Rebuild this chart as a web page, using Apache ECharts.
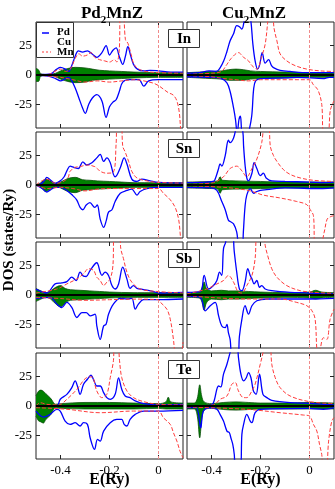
<!DOCTYPE html>
<html>
<head>
<meta charset="utf-8">
<script src="https://cdn.jsdelivr.net/npm/echarts@6/dist/echarts.min.js"></script>
<style>
html, body { margin: 0; padding: 0; background: #fff; }
#chart { width: 335px; height: 489px; }
</style>
</head>
<body>
<div id="chart"></div>
<script>
'use strict';
var FONT = '"Liberation Serif", "Times New Roman", serif';

// tick labels
var xTicks = [-0.4, -0.2, 0];
var yTicks = [-25, 0, 25];
var rowLabels = ['In', 'Sn', 'Sb', 'Te'];
var legendNames = ['Pd', 'Cu', 'Mn'];

// ---- Pd2MnIn ----  [E (Ry), DOS]
var pdInUp = [[-0.5,0],[-0.47,0.5],[-0.44,1],[-0.415,5],[-0.4,6.5],[-0.38,5],[-0.367,3],[-0.354,8],[-0.34,16],[-0.327,20.5],[-0.31,19.5],[-0.29,20.5],[-0.272,18],[-0.252,15],[-0.231,19],[-0.214,25],[-0.2,17],[-0.186,21],[-0.173,23],[-0.159,15],[-0.146,9],[-0.135,16],[-0.125,24],[-0.113,16],[-0.102,9],[-0.086,5],[-0.06,3.5],[-0.034,4],[0,3.5],[0.05,2.5],[0.1,2.5]];
var pdInDn = [[-0.5,0],[-0.45,-1],[-0.42,-3],[-0.4,-5],[-0.38,-3],[-0.367,-2],[-0.354,-5],[-0.34,-11],[-0.325,-19.5],[-0.31,-28],[-0.299,-32.5],[-0.285,-25],[-0.27,-19.5],[-0.252,-16.7],[-0.231,-22],[-0.214,-36],[-0.2,-27],[-0.186,-23],[-0.173,-21],[-0.16,-14],[-0.146,-6],[-0.12,-4],[-0.08,-4],[-0.06,-9.5],[-0.04,-5],[0,-4],[0.05,-4],[0.1,-4]];
var pdInMnUp = [[-0.5,0],[-0.45,0.5],[-0.4,5],[-0.38,3],[-0.36,5],[-0.34,14],[-0.325,18],[-0.31,16],[-0.29,17],[-0.275,19],[-0.26,15],[-0.24,13],[-0.22,12],[-0.2,11],[-0.18,13],[-0.17,11],[-0.16,22],[-0.155,55],[-0.145,55],[-0.135,30],[-0.125,27],[-0.11,16],[-0.1,9],[-0.08,5],[-0.05,3],[0,2],[0.1,1.5]];
var pdInMnDn = [[-0.5,0],[-0.4,-2],[-0.35,-4],[-0.3,-6],[-0.25,-5],[-0.2,-6],[-0.15,-5],[-0.1,-4],[-0.06,-5],[-0.02,-7],[0,-9],[0.02,-12],[0.04,-15],[0.06,-17],[0.075,-22],[0.085,-32],[0.092,-50],[0.1,-60]];
var pdInZ = [[-0.5,5.5,-5.5],[-0.49,4.5,-5.5],[-0.48,1,-1],[-0.45,0.3,-0.3],[-0.42,1.5,-1.5],[-0.4,3.5,-3.5],[-0.37,5.5,-5.5],[-0.34,6.5,-6.5],[-0.3,6,-6],[-0.27,5,-4.5],[-0.24,4,-4],[-0.2,3.5,-3.5],[-0.15,3,-3],[-0.1,2.5,-2.5],[0,2,-2],[0.1,2,-2]];

// ---- Cu2MnIn ----
var cuInUp = [[-0.5,1.5],[-0.45,2],[-0.41,3.5],[-0.38,3],[-0.365,6],[-0.35,12],[-0.337,20],[-0.324,29],[-0.31,35],[-0.297,42],[-0.286,41],[-0.276,39],[-0.265,47],[-0.25,55],[-0.24,47],[-0.231,26],[-0.222,12],[-0.212,5],[-0.203,9],[-0.193,19],[-0.181,10],[-0.167,13],[-0.155,8],[-0.145,6],[-0.12,4],[-0.08,3],[0,2],[0.05,2],[0.1,2]];
var cuInDn = [[-0.5,-1.5],[-0.4,-2],[-0.36,-3],[-0.337,-6.6],[-0.324,-14],[-0.31,-28],[-0.302,-38],[-0.295,-50],[-0.288,-38],[-0.282,-35],[-0.275,-50],[-0.26,-55],[-0.25,-50],[-0.236,-35],[-0.228,-12],[-0.22,-5],[-0.2,-3],[-0.1,-2.5],[-0.05,-2],[0.06,-3],[0.08,-2],[0.1,-2]];
var cuInMnUp = [[-0.5,0.5],[-0.4,1.5],[-0.36,3],[-0.337,9],[-0.32,14],[-0.29,19],[-0.269,15],[-0.249,12],[-0.235,8],[-0.215,5],[-0.195,16],[-0.181,26],[-0.171,44],[-0.166,55],[-0.152,55],[-0.145,40],[-0.133,29],[-0.12,18],[-0.093,12],[-0.059,8],[-0.011,5],[0.044,3.5],[0.1,3]];
var cuInMnDn = [[-0.5,-0.5],[-0.4,-1.5],[-0.35,-3],[-0.3,-4],[-0.25,-5],[-0.2,-4],[-0.1,-4],[0,-4],[0.015,-8],[0.035,-13],[0.05,-25],[0.058,-50],[0.075,-50],[0.085,-30],[0.1,-22]];
var cuInZ = [[-0.5,2,-2],[-0.45,2.5,-2.5],[-0.4,3,-3],[-0.36,3.5,-3.5],[-0.33,4.5,-4.5],[-0.3,5,-4.5],[-0.27,4.5,-4.5],[-0.24,3.5,-3.5],[-0.2,3,-3],[-0.1,2.5,-2.5],[0,2,-2],[0.1,2,-2]];

// ---- Pd2MnSn ----
var pdSnUp = [[-0.5,0],[-0.48,1],[-0.465,4],[-0.456,6.4],[-0.44,4],[-0.422,1.4],[-0.401,3.5],[-0.385,7],[-0.374,12],[-0.361,16],[-0.345,15],[-0.327,14],[-0.309,19.7],[-0.293,17],[-0.272,18.9],[-0.252,23],[-0.238,26],[-0.224,20],[-0.211,23],[-0.197,19],[-0.184,9],[-0.177,7],[-0.156,14.7],[-0.14,23],[-0.129,18],[-0.109,5],[-0.088,3],[-0.068,5],[-0.034,3.5],[0,2.2],[0.1,1.6]];
var pdSnDn = [[-0.5,0],[-0.475,-3],[-0.456,-6],[-0.44,-4],[-0.42,-2],[-0.4,-2],[-0.374,-4.6],[-0.35,-9],[-0.334,-12.6],[-0.32,-19],[-0.309,-21],[-0.295,-17],[-0.28,-15],[-0.26,-19],[-0.25,-17],[-0.238,-29],[-0.224,-36],[-0.213,-30],[-0.204,-23],[-0.19,-21],[-0.177,-14],[-0.156,-7],[-0.129,-4.6],[-0.109,-3.5],[-0.088,-8.6],[-0.075,-5.5],[-0.048,-3],[0,-2],[0.1,-2]];
var pdSnMnUp = [[-0.5,0],[-0.456,5],[-0.42,1.5],[-0.4,2],[-0.37,6],[-0.361,11.6],[-0.34,15],[-0.32,15.6],[-0.29,17],[-0.26,15.6],[-0.25,14],[-0.238,11.6],[-0.211,10],[-0.184,11],[-0.173,35],[-0.168,55],[-0.153,55],[-0.146,33],[-0.136,28],[-0.122,20],[-0.109,11.6],[-0.088,6],[-0.048,3.5],[0,2.2],[0.1,1.6]];
var pdSnMnDn = [[-0.5,0],[-0.456,-3],[-0.4,-2],[-0.35,-3],[-0.3,-5],[-0.25,-3.5],[-0.2,-3],[-0.1,-3],[0,-3],[0.02,-7],[0.048,-12.6],[0.068,-19],[0.082,-29],[0.088,-40],[0.092,-50],[0.1,-60]];
var pdSnZ = [[-0.5,0,0],[-0.48,2,-2],[-0.46,5,-5.5],[-0.44,3.5,-3.5],[-0.42,1.5,-1.5],[-0.4,2.5,-2.5],[-0.37,5.5,-5.5],[-0.34,6.5,-6.5],[-0.31,4.5,-4.5],[-0.28,4,-4],[-0.25,3.5,-3.5],[-0.2,3,-3],[-0.15,2.5,-2.5],[-0.1,2,-2],[0.1,2,-2]];

// ---- Cu2MnSn ----
var cuSnUp = [[-0.5,2],[-0.42,2.5],[-0.392,3],[-0.385,5],[-0.371,14],[-0.365,18],[-0.358,16],[-0.344,25],[-0.331,38],[-0.324,36],[-0.31,40],[-0.297,50],[-0.283,55],[-0.272,45],[-0.269,33],[-0.263,17],[-0.256,6],[-0.249,3.5],[-0.235,10],[-0.226,19],[-0.215,14],[-0.201,8],[-0.188,10],[-0.177,6],[-0.154,3.5],[-0.1,3],[0,2.5],[0.06,2],[0.1,2.5]];
var cuSnDn = [[-0.5,-2],[-0.4,-2.5],[-0.378,-4.6],[-0.358,-14],[-0.344,-21],[-0.331,-30],[-0.324,-31],[-0.31,-33],[-0.297,-40],[-0.286,-55],[-0.275,-55],[-0.27,-40],[-0.263,-18],[-0.256,-8.6],[-0.242,-3],[-0.228,-7],[-0.215,-5.5],[-0.2,-4.5],[-0.175,-4],[-0.1,-2.5],[0.055,-3],[0.1,-2.5]];
var cuSnMnUp = [[-0.5,0.5],[-0.392,2],[-0.351,7],[-0.324,14],[-0.297,16],[-0.276,12],[-0.256,7],[-0.235,14],[-0.215,22],[-0.195,36],[-0.181,55],[-0.167,55],[-0.16,33],[-0.147,25],[-0.133,20],[-0.106,13],[-0.079,9],[-0.038,6],[0.016,4],[0.1,3]];
var cuSnMnDn = [[-0.5,-0.5],[-0.35,-2],[-0.25,-4.6],[-0.188,-8.6],[-0.12,-11],[-0.052,-14],[-0.011,-16.7],[0.003,-21],[0.016,-26],[0.023,-50],[0.045,-50],[0.06,-40],[0.072,-29],[0.085,-27],[0.1,-26]];
var cuSnZ = [[-0.5,2.5,-2.5],[-0.4,3,-3],[-0.375,3.5,-3.5],[-0.365,7,-7],[-0.355,4,-4],[-0.3,3.5,-3.5],[-0.2,3,-3],[-0.1,2.5,-2.5],[0.1,2.5,-2.5]];

// ---- Pd2MnSb ----
var pdSbUp = [[-0.5,5],[-0.456,1.7],[-0.422,9.4],[-0.395,10.3],[-0.374,11.4],[-0.354,15.1],[-0.336,12.3],[-0.32,19.4],[-0.306,16],[-0.295,15.7],[-0.279,20.9],[-0.252,27.4],[-0.238,19.4],[-0.231,16.6],[-0.218,19.4],[-0.204,16.6],[-0.19,8],[-0.177,5.1],[-0.163,9.4],[-0.146,23.7],[-0.129,13.7],[-0.116,5.7],[-0.102,8],[-0.088,5.7],[-0.061,4.6],[-0.02,2.9],[0,1.7],[0.1,2.3]];
var pdSbDn = [[-0.5,-2.9],[-0.442,-2],[-0.415,-7.7],[-0.395,-10.6],[-0.374,-6.3],[-0.354,-10.6],[-0.333,-19.1],[-0.313,-14.9],[-0.295,-14.9],[-0.279,-17.7],[-0.259,-16.3],[-0.252,-26],[-0.238,-37.7],[-0.224,-26.3],[-0.214,-24.9],[-0.204,-16.3],[-0.184,-7.7],[-0.156,-2.9],[-0.129,-3.4],[-0.109,-2.9],[-0.095,-12],[-0.082,-7.7],[-0.061,-4],[0,-4],[0.1,-3.4]];
var pdSbMnUp = [[-0.5,1.7],[-0.415,5.1],[-0.374,9.4],[-0.333,13.7],[-0.306,18],[-0.286,22.3],[-0.265,20.9],[-0.252,15.1],[-0.238,12.3],[-0.224,8],[-0.211,10.9],[-0.197,13.7],[-0.186,25],[-0.181,55],[-0.159,55],[-0.154,39.4],[-0.143,30.9],[-0.129,19.4],[-0.109,10.9],[-0.075,5.1],[0,2.9],[0.1,1.7]];
var pdSbMnDn = [[-0.5,-2],[-0.4,-3],[-0.3,-4.5],[-0.2,-4],[-0.1,-3.5],[0,-4],[0.007,-6],[0.034,-12],[0.048,-20.6],[0.061,-37.7],[0.065,-46],[0.075,-60],[0.09,-55],[0.1,-40]];
var pdSbZ = [[-0.5,5.5,-5.5],[-0.48,3.5,-3.5],[-0.46,2,-2],[-0.44,3.5,-3.5],[-0.42,6.5,-7.5],[-0.4,8,-10],[-0.38,5.5,-6.5],[-0.36,4.5,-4.5],[-0.32,4,-4],[-0.28,3.5,-3.5],[-0.24,3,-3],[-0.2,2.5,-2.5],[-0.1,2,-2],[0.1,2,-2]];

// ---- Cu2MnSb ----
var cuSbUp = [[-0.5,2.3],[-0.446,2.9],[-0.43,16.6],[-0.412,5.1],[-0.392,8],[-0.378,12.3],[-0.367,19.4],[-0.358,16.6],[-0.351,39.4],[-0.342,45],[-0.337,55],[-0.317,55],[-0.307,36.6],[-0.297,19.4],[-0.286,5.1],[-0.276,3.7],[-0.263,10.9],[-0.252,22.3],[-0.242,16.6],[-0.235,13.7],[-0.226,9.4],[-0.215,12.3],[-0.204,6.6],[-0.195,8],[-0.181,5.1],[-0.154,3.7],[-0.079,2.3],[0,1.7],[0.057,0.9],[0.1,0.9]];
var cuSbDn = [[-0.5,-1.1],[-0.446,-2],[-0.426,-13.4],[-0.405,-9.1],[-0.385,-6.3],[-0.371,-17.7],[-0.358,-26.3],[-0.344,-27.7],[-0.337,-24.9],[-0.331,-32],[-0.324,-37.7],[-0.314,-55],[-0.294,-55],[-0.286,-35],[-0.276,-20.6],[-0.263,-9.1],[-0.249,-16.3],[-0.235,-9.1],[-0.215,-4.9],[-0.174,-3.4],[0,-3.4],[0.1,-2.9]];
var cuSbMnUp = [[-0.5,0.9],[-0.419,5.1],[-0.392,8],[-0.351,12.3],[-0.331,16.6],[-0.31,10.9],[-0.29,2.3],[-0.276,1.7],[-0.256,8],[-0.235,16.6],[-0.222,30.9],[-0.212,55],[-0.188,55],[-0.181,42.3],[-0.171,33.7],[-0.154,22.3],[-0.133,15.1],[-0.093,8],[-0.038,3.7],[0.016,2.3],[0.1,1.4]];
var cuSbMnDn = [[-0.5,-0.6],[-0.256,-3.4],[-0.12,-3.4],[-0.052,-6.3],[-0.011,-9.1],[0.01,-13.4],[0.023,-20.6],[0.03,-46],[0.037,-55],[0.044,-46],[0.057,-36.3],[0.071,-37.7],[0.084,-20.6],[0.1,-12]];
var cuSbZ = [[-0.5,2,-2],[-0.45,2.5,-2.5],[-0.44,5.5,-5.5],[-0.43,11,-13],[-0.42,5.5,-6.5],[-0.4,3.5,-3.5],[-0.36,4,-4],[-0.33,3.5,-3.5],[-0.3,3.5,-3.5],[-0.25,3,-3],[-0.2,2.5,-2.5],[-0.1,2,-2],[0,2.5,-2.5],[0.025,4,-3.5],[0.05,2.5,-2.5],[0.1,2,-2]];

// ---- Pd2MnTe ----
var pdTeUp = [[-0.5,0],[-0.415,0],[-0.401,5.7],[-0.374,9.9],[-0.354,15.6],[-0.34,21.3],[-0.331,17],[-0.32,9.9],[-0.306,18.5],[-0.29,22.7],[-0.276,26.1],[-0.263,21.3],[-0.252,17],[-0.238,17],[-0.224,11.4],[-0.211,7.1],[-0.197,5.7],[-0.177,9.9],[-0.163,23.9],[-0.15,14.2],[-0.136,8.5],[-0.116,7.1],[-0.095,4.3],[-0.061,2],[0,0.9],[0.1,1.4]];
var pdTeDn = [[-0.5,-4.3],[-0.469,-9.4],[-0.442,-7.1],[-0.415,-2.8],[-0.401,-4.3],[-0.381,-12.8],[-0.361,-15.6],[-0.34,-14.2],[-0.32,-17],[-0.306,-14.2],[-0.29,-15.6],[-0.279,-27],[-0.261,-36.9],[-0.249,-28.4],[-0.238,-29.8],[-0.224,-21.3],[-0.197,-14.2],[-0.17,-11.4],[-0.15,-11.4],[-0.14,-15.6],[-0.129,-17],[-0.116,-11.4],[-0.095,-7.1],[-0.061,-4.3],[0,-4.3],[0.1,-3.7]];
var pdTeMnUp = [[-0.5,0],[-0.483,2.8],[-0.456,1.4],[-0.408,0.9],[-0.374,5.7],[-0.333,14.2],[-0.293,24.1],[-0.272,24.7],[-0.252,12.8],[-0.231,7.1],[-0.211,9.9],[-0.197,24.1],[-0.184,38.4],[-0.18,55],[-0.167,55],[-0.159,38.4],[-0.15,24.1],[-0.129,12.8],[-0.102,7.1],[-0.061,3.7],[0,1.4],[0.1,0.9]];
var pdTeMnDn = [[-0.5,-1.4],[-0.374,-2.8],[-0.238,-5.7],[-0.102,-4.3],[0,-4.3],[0.02,-10],[0.048,-15.6],[0.061,-22.7],[0.075,-29.8],[0.088,-38.4],[0.1,-44]];
var pdTeZ = [[-0.5,8.5,-8.5],[-0.49,12.5,-12.5],[-0.48,13.5,-13.5],[-0.47,12.5,-14.5],[-0.46,10.5,-11.5],[-0.44,6.5,-7.5],[-0.42,1.5,-1.5],[-0.4,2,-2],[-0.3,3,-2.5],[-0.2,3,-2.5],[-0.1,2.5,-2.5],[0,2,-2],[0.03,3.5,-2.5],[0.04,7.5,-2.5],[0.05,3.5,-2.5],[0.1,2.5,-2.5]];

// ---- Cu2MnTe ----
var cuTeUp = [[-0.5,0],[-0.405,0.6],[-0.392,2.8],[-0.371,17],[-0.362,16.2],[-0.351,27],[-0.337,35.5],[-0.324,45.5],[-0.313,55],[-0.297,55],[-0.29,41.2],[-0.28,27],[-0.269,21.3],[-0.258,24],[-0.249,28.4],[-0.239,24],[-0.229,12.8],[-0.218,9.9],[-0.204,27],[-0.19,9.9],[-0.174,7.1],[-0.154,4.8],[-0.079,2.8],[0,2.3],[0.057,1.4],[0.1,0.9]];
var cuTeDn = [[-0.5,-1.4],[-0.463,-1.4],[-0.444,-18.5],[-0.433,-4.3],[-0.405,-1.4],[-0.378,-2.8],[-0.365,-7.1],[-0.351,-12.8],[-0.337,-21.3],[-0.327,-22.7],[-0.321,-27],[-0.313,-32.7],[-0.307,-41.2],[-0.302,-55],[-0.283,-55],[-0.276,-24.1],[-0.269,-15.6],[-0.256,-7.1],[-0.242,-12.8],[-0.235,-14.2],[-0.222,-5.7],[-0.201,-2.8],[0,-2],[0.057,-2.8],[0.1,-1.4]];
var cuTeMnUp = [[-0.5,0],[-0.392,0.9],[-0.365,5.7],[-0.337,8.5],[-0.317,18.5],[-0.303,19.9],[-0.29,12.8],[-0.269,7.1],[-0.256,7.1],[-0.235,12.8],[-0.222,18.5],[-0.201,35.5],[-0.188,46.9],[-0.181,55],[-0.163,55],[-0.154,35.5],[-0.14,24.1],[-0.12,15.6],[-0.079,8.5],[0,3.7],[0.1,2]];
var cuTeMnDn = [[-0.5,-0.9],[-0.256,-2.8],[-0.12,-5.7],[-0.024,-7.7],[0,-8.5],[0.016,-15.6],[0.03,-21.3],[0.041,-32.7],[0.05,-41.2],[0.057,-55],[0.068,-55],[0.078,-29.8],[0.091,-12.8],[0.1,-9.9]];
var cuTeZ = [[-0.5,2.5,-2.5],[-0.47,2.5,-2.5],[-0.458,6.5,-8.5],[-0.448,18,-27],[-0.44,8.5,-12],[-0.43,3.5,-3.5],[-0.4,2,-2],[-0.35,3,-3],[-0.3,3.5,-3.5],[-0.25,3,-3],[-0.2,2.5,-2.5],[-0.1,2.5,-2.5],[0,3,-2.5],[0.1,2.5,-2.5]];

var panels = [
  { up: pdInUp, dn: pdInDn, mnUp: pdInMnUp, mnDn: pdInMnDn, z: pdInZ },
  { up: cuInUp, dn: cuInDn, mnUp: cuInMnUp, mnDn: cuInMnDn, z: cuInZ },
  { up: pdSnUp, dn: pdSnDn, mnUp: pdSnMnUp, mnDn: pdSnMnDn, z: pdSnZ },
  { up: cuSnUp, dn: cuSnDn, mnUp: cuSnMnUp, mnDn: cuSnMnDn, z: cuSnZ },
  { up: pdSbUp, dn: pdSbDn, mnUp: pdSbMnUp, mnDn: pdSbMnDn, z: pdSbZ },
  { up: cuSbUp, dn: cuSbDn, mnUp: cuSbMnUp, mnDn: cuSbMnDn, z: cuSbZ },
  { up: pdTeUp, dn: pdTeDn, mnUp: pdTeMnUp, mnDn: pdTeMnDn, z: pdTeZ },
  { up: cuTeUp, dn: cuTeDn, mnUp: cuTeMnUp, mnDn: cuTeMnDn, z: cuTeZ }
];

var rowTops = [22, 132, 242, 353];
var colLefts = [36, 187];
var BLUE = '#0000ff', RED = '#ff3b3b', GREEN = '#008000';

var grids = [], xAxes = [], yAxes = [], series = [];

function xAxis(i, pos, labels) {
  return {
    type: 'value', gridIndex: i, position: pos, min: -0.5, max: 0.1,
    axisLine: { show: false, onZero: false }, splitLine: { show: false },
    axisTick: { show: true, inside: true, length: 4, customValues: xTicks, lineStyle: { color: '#222' } },
    axisLabel: {
      show: labels, customValues: xTicks, margin: 5, color: '#000',
      fontFamily: FONT, fontSize: 13,
      formatter: function (v) { return v === 0 ? '0' : String(v); }
    }
  };
}
function yAxis(i, pos, labels) {
  return {
    type: 'value', gridIndex: i, position: pos, min: -45, max: 45,
    axisLine: { show: false, onZero: false }, splitLine: { show: false },
    axisTick: { show: true, inside: true, length: 4, customValues: yTicks, lineStyle: { color: '#222' } },
    axisLabel: { show: labels, customValues: yTicks, margin: 4, color: '#000', fontFamily: FONT, fontSize: 13 }
  };
}
function curve(i, data, color, width, dash) {
  return {
    type: 'line', xAxisIndex: 2 * i, yAxisIndex: 2 * i, data: data,
    smooth: 0.35, symbol: 'none', silent: true, clip: true,
    lineStyle: { color: color, width: width, type: dash || 'solid' }
  };
}

panels.forEach(function (p, i) {
  var row = Math.floor(i / 2), col = i % 2;
  grids.push({
    left: colLefts[col], top: rowTops[row], width: 147, height: 106,
    show: true, borderColor: '#222', borderWidth: 1, backgroundColor: 'transparent'
  });
  xAxes.push(xAxis(i, 'bottom', row === 3), xAxis(i, 'top', false));
  yAxes.push(yAxis(i, 'left', col === 0), yAxis(i, 'right', false));

  var zUp = p.z.map(function (r) { return [r[0], r[1]]; });
  var zDn = p.z.map(function (r) { return [r[0], r[2]]; });
  var gUp = curve(i, zUp, '#0b4d0b', 0.8);
  gUp.areaStyle = { color: GREEN, opacity: 1 };
  var gDn = curve(i, zDn, '#0b4d0b', 0.8);
  gDn.areaStyle = { color: GREEN, opacity: 1 };
  gDn.markLine = {
    silent: true, symbol: ['none', 'none'], label: { show: false },
    data: [
      { yAxis: 0, lineStyle: { color: '#000', width: 2.2, type: 'solid' } },
      { xAxis: 0, lineStyle: { color: '#f08a8a', width: 1, type: [3, 2] } }
    ]
  };
  series.push(gUp, gDn,
    curve(i, p.up, BLUE, 1.3), curve(i, p.dn, BLUE, 1.3),
    curve(i, p.mnUp, RED, 1, [4, 2]), curve(i, p.mnDn, RED, 1, [4, 2]));
});

// texts drawn with graphic elements
var boldFont = function (s) { return 'bold ' + s + 'px ' + FONT; };
var elements = [];
[['Pd', 112], ['Cu', 254]].forEach(function (t) {
  elements.push({
    type: 'text', x: t[1], y: 1, z: 100,
    style: {
      text: '{a|' + t[0] + '}{s|2}{a|MnZ}', align: 'center', verticalAlign: 'top',
      rich: {
        a: { fontFamily: FONT, fontWeight: 'bold', fontSize: 17, lineHeight: 18, verticalAlign: 'middle', fill: '#000' },
        s: { fontFamily: FONT, fontWeight: 'bold', fontSize: 11, lineHeight: 25, verticalAlign: 'bottom', fill: '#000' }
      }
    }
  });
});
[109.5, 260.5].forEach(function (x) {
  elements.push({ type: 'text', x: x, y: 480, z: 100,
    style: { text: 'E(Ry)', font: boldFont(16), fill: '#000', align: 'center', verticalAlign: 'middle' } });
});
elements.push({ type: 'text', x: 9, y: 240, rotation: Math.PI / 2, z: 100,
  style: { text: 'DOS (states/Ry)', font: boldFont(15), fill: '#000', align: 'center', verticalAlign: 'middle' } });

rowLabels.forEach(function (lab, r) {
  var top = rowTops[r] + 7;
  elements.push({ type: 'rect', z: 100, shape: { x: 168.5, y: top + 0.5, width: 31, height: 18 },
    style: { fill: '#fff', stroke: '#333', lineWidth: 1 } });
  elements.push({ type: 'text', x: 184, y: top + 10, z: 101,
    style: { text: lab, font: boldFont(15), fill: '#000', align: 'center', verticalAlign: 'middle' } });
});

// legend box
elements.push({ type: 'rect', z: 100, shape: { x: 36.5, y: 22.5, width: 37, height: 35 },
  style: { fill: '#fff', stroke: '#333', lineWidth: 1 } });
elements.push({ type: 'line', z: 101, shape: { x1: 42, y1: 33, x2: 49, y2: 33 }, style: { stroke: BLUE, lineWidth: 1.5 } });
elements.push({ type: 'line', z: 101, shape: { x1: 42, y1: 52, x2: 51, y2: 52 }, style: { stroke: RED, lineWidth: 1, lineDash: [2, 2] } });
legendNames.forEach(function (n, k) {
  elements.push({ type: 'text', x: 57, y: 32 + 10 * k, z: 101,
    style: { text: n, font: boldFont(11), fill: '#000', align: 'left', verticalAlign: 'middle' } });
});

var myChart = echarts.init(document.getElementById('chart'), null, { renderer: 'canvas' });
myChart.setOption({
  animation: false,
  backgroundColor: '#fff',
  grid: grids,
  xAxis: xAxes,
  yAxis: yAxes,
  series: series,
  graphic: { elements: elements }
});
</script>
</body>
</html>
